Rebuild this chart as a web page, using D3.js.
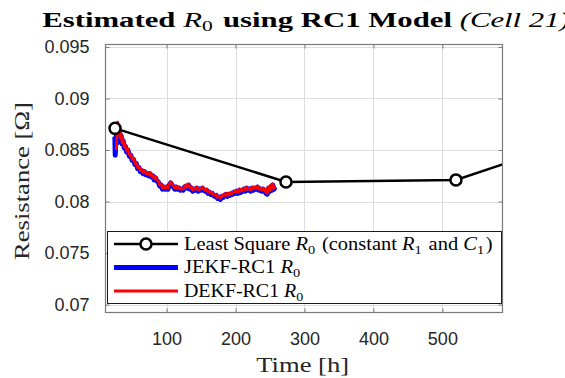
<!DOCTYPE html>
<html>
<head>
<meta charset="utf-8">
<script src="https://cdn.jsdelivr.net/npm/d3@7/dist/d3.min.js"></script>
<style>
  body { margin: 0; background: #fff; }
  svg { display: block; }
</style>
</head>
<body>
<svg id="chart" width="565" height="378"></svg>
<script>
// Axis ticks
const xTicks = [100, 200, 300, 400, 500];
const xTickLabels = ["100", "200", "300", "400", "500"];
const yTicks = [0.07, 0.075, 0.08, 0.085, 0.09, 0.095];
const yTickLabels = ["0.07", "0.075", "0.08", "0.085", "0.09", "0.095"];

// Least-square R0 estimates (constant R1 and C1)
const lsTime = [25.2, 273.2, 519.7, 767];
const lsR0 = [0.0871, 0.0819, 0.0821, 0.0876];

// Joint EKF estimate of R0
const jekfTime = [25, 25.5, 26.5, 27.5, 28.5, 29.5, 31, 32.5, 34, 35.5, 37, 38.5, 40, 42, 44, 46, 48, 50, 52, 54, 56, 58, 60, 62, 64, 66, 68, 70, 72, 74, 76, 78, 80, 82, 84, 86, 88, 90, 92, 94, 96, 98, 100, 102, 104, 106, 108, 110, 112, 114, 116, 118, 120, 122, 124, 126, 128, 130, 132, 134, 136, 138, 140, 142, 144, 146, 148, 150, 152, 154, 156, 158, 160, 162, 164, 166, 168, 170, 172, 174, 176, 178, 180, 182, 184, 186, 188, 190, 192, 194, 196, 198, 200, 202, 204, 206, 208, 210, 212, 214, 216, 218, 220, 222, 224, 226, 228, 230, 232, 234, 236, 238, 240, 242, 244, 245, 246, 248, 250, 252, 253, 254, 256, 257];
const jekfR0 = [0.0863, 0.0845, 0.0860, 0.0866, 0.0857, 0.0868, 0.0870, 0.0861, 0.0864, 0.0856, 0.0859, 0.0852, 0.0854, 0.0848, 0.0850, 0.0844, 0.0845, 0.0840, 0.0841, 0.0836, 0.0837, 0.0832, 0.0833, 0.0829, 0.0830, 0.0827, 0.0829, 0.0826, 0.0827, 0.0825, 0.0827, 0.0824, 0.0825, 0.0821, 0.0823, 0.0820, 0.0819, 0.0815, 0.0816, 0.0812, 0.0814, 0.0812, 0.0814, 0.0812, 0.0816, 0.0818, 0.0816, 0.0814, 0.0812, 0.0814, 0.0812, 0.0813, 0.0811, 0.0812, 0.0811, 0.0814, 0.0815, 0.0813, 0.0816, 0.0812, 0.0813, 0.0810, 0.0812, 0.0811, 0.0813, 0.0810, 0.0812, 0.0811, 0.0813, 0.0811, 0.0810, 0.0811, 0.0808, 0.0809, 0.0807, 0.0808, 0.0806, 0.0805, 0.0806, 0.0803, 0.0804, 0.0802, 0.0805, 0.0804, 0.0806, 0.0807, 0.0805, 0.0807, 0.0806, 0.0808, 0.0807, 0.0809, 0.0808, 0.0810, 0.0808, 0.0811, 0.0809, 0.0810, 0.0812, 0.0810, 0.0813, 0.0811, 0.0812, 0.0810, 0.0813, 0.0811, 0.0813, 0.0812, 0.0814, 0.0811, 0.0812, 0.0810, 0.0812, 0.0811, 0.0808, 0.0811, 0.0807, 0.0813, 0.0810, 0.0815, 0.0811, 0.0816, 0.0812, 0.0814];

// Dual EKF estimate of R0
const dekfTime = [27, 28, 29, 30, 31, 32.5, 34, 35.5, 37, 38.5, 40, 42, 44, 46, 48, 50, 52, 54, 56, 58, 60, 62, 64, 66, 68, 70, 72, 74, 76, 78, 80, 82, 84, 86, 88, 90, 92, 94, 96, 98, 100, 102, 104, 106, 108, 110, 112, 114, 116, 118, 120, 122, 124, 126, 128, 130, 132, 134, 136, 138, 140, 142, 144, 146, 148, 150, 152, 154, 156, 158, 160, 162, 164, 166, 168, 170, 172, 174, 176, 178, 180, 182, 184, 186, 188, 190, 192, 194, 196, 198, 200, 202, 204, 206, 208, 210, 212, 214, 216, 218, 220, 222, 224, 226, 228, 230, 232, 234, 236, 238, 240, 242, 244, 245, 246, 248, 250, 252, 253, 254, 256, 257];
const dekfR0 = [0.0850, 0.0866, 0.0877, 0.0866, 0.0873, 0.0862, 0.0866, 0.0857, 0.0860, 0.0853, 0.0855, 0.0849, 0.0851, 0.0845, 0.0846, 0.0841, 0.0842, 0.0837, 0.0838, 0.0833, 0.0834, 0.0830, 0.0831, 0.0828, 0.0830, 0.0827, 0.0828, 0.0826, 0.0828, 0.0825, 0.0826, 0.0822, 0.0824, 0.0821, 0.0820, 0.0816, 0.0817, 0.0813, 0.0815, 0.0813, 0.0815, 0.0813, 0.0817, 0.0819, 0.0817, 0.0815, 0.0813, 0.0815, 0.0813, 0.0814, 0.0812, 0.0813, 0.0812, 0.0815, 0.0816, 0.0814, 0.0817, 0.0813, 0.0814, 0.0811, 0.0813, 0.0812, 0.0814, 0.0811, 0.0813, 0.0812, 0.0814, 0.0812, 0.0811, 0.0812, 0.0809, 0.0810, 0.0808, 0.0809, 0.0807, 0.0806, 0.0807, 0.0804, 0.0805, 0.0803, 0.0806, 0.0805, 0.0807, 0.0808, 0.0806, 0.0808, 0.0807, 0.0809, 0.0808, 0.0810, 0.0809, 0.0811, 0.0809, 0.0812, 0.0810, 0.0811, 0.0813, 0.0811, 0.0814, 0.0812, 0.0813, 0.0811, 0.0814, 0.0812, 0.0814, 0.0813, 0.0815, 0.0812, 0.0813, 0.0811, 0.0813, 0.0812, 0.0809, 0.0812, 0.0808, 0.0814, 0.0811, 0.0816, 0.0812, 0.0817, 0.0813, 0.0815];

const svg = d3.select("#chart");
const W = 565, H = 378;
const plot = { left: 105.5, right: 502.5, top: 44.5, bottom: 312.5 };

const x = d3.scaleLinear().domain([11.4, 587.2]).range([plot.left, plot.right]);
const y = d3.scaleLinear().domain([0.06923, 0.09524]).range([plot.bottom, plot.top]);

const axisColor = "#262626";
const frameColor = "#7a7a7a";
const serif = "'Liberation Serif', 'Times New Roman', serif";
const sans = "'Liberation Sans', Arial, Helvetica, sans-serif";

svg.append("rect").attr("width", W).attr("height", H).attr("fill", "#fff");

// Grid
const grid = svg.append("g");
grid.selectAll("line.gx").data(xTicks).join("line")
  .attr("x1", d => Math.round(x(d)) + 0.5).attr("x2", d => Math.round(x(d)) + 0.5)
  .attr("y1", plot.top).attr("y2", plot.bottom)
  .attr("stroke", "#dedede").attr("stroke-width", 1);
grid.selectAll("line.gy").data(yTicks).join("line")
  .attr("y1", d => Math.round(y(d)) + 0.5).attr("y2", d => Math.round(y(d)) + 0.5)
  .attr("x1", plot.left).attr("x2", plot.right)
  .attr("stroke", "#dedede").attr("stroke-width", 1);

// Axes with inward ticks on all four sides
const tickLen = 4;
const xAxisB = svg.append("g").attr("transform", `translate(0,${plot.bottom})`)
  .call(d3.axisBottom(x).tickValues(xTicks).tickFormat((d, i) => xTickLabels[i])
    .tickSizeInner(-tickLen).tickSizeOuter(0).tickPadding(20));
const xAxisT = svg.append("g").attr("transform", `translate(0,${plot.top})`)
  .call(d3.axisTop(x).tickValues(xTicks).tickFormat("").tickSizeInner(-tickLen).tickSizeOuter(0));
const yAxisL = svg.append("g").attr("transform", `translate(${plot.left},0)`)
  .call(d3.axisLeft(y).tickValues(yTicks).tickFormat((d, i) => yTickLabels[i])
    .tickSizeInner(-tickLen).tickSizeOuter(0).tickPadding(16));
const yAxisR = svg.append("g").attr("transform", `translate(${plot.right},0)`)
  .call(d3.axisRight(y).tickValues(yTicks).tickFormat("").tickSizeInner(-tickLen).tickSizeOuter(0));

[xAxisB, xAxisT, yAxisL, yAxisR].forEach(g => {
  g.select(".domain").remove();
  g.selectAll(".tick line").attr("stroke", frameColor).attr("stroke-width", 1);
  g.selectAll("text").attr("fill", axisColor).attr("font-family", sans).attr("font-size", 18);
});

// Data clip
svg.append("clipPath").attr("id", "plotClip").append("rect")
  .attr("x", plot.left).attr("y", plot.top)
  .attr("width", plot.right - plot.left).attr("height", plot.bottom - plot.top);

const dataG = svg.append("g").attr("clip-path", "url(#plotClip)");
const line = d3.line().x(d => x(d[0])).y(d => y(d[1]));

const jekf = jekfTime.map((t, i) => [t, jekfR0[i]]);
const dekf = dekfTime.map((t, i) => [t, dekfR0[i]]);
const ls = lsTime.map((t, i) => [t, lsR0[i]]);

dataG.append("path").datum(ls).attr("d", line)
  .attr("fill", "none").attr("stroke", "#000").attr("stroke-width", 2.5);
dataG.append("path").datum(jekf).attr("d", line)
  .attr("fill", "none").attr("stroke", "#0000ff").attr("stroke-width", 5)
  .attr("stroke-linejoin", "round");
dataG.append("path").datum(dekf).attr("d", line)
  .attr("fill", "none").attr("stroke", "#ff0000").attr("stroke-width", 2.8)
  .attr("stroke-linejoin", "round");
dataG.selectAll("circle.ls").data(ls).join("circle")
  .attr("cx", d => x(d[0])).attr("cy", d => y(d[1])).attr("r", 5.5)
  .attr("fill", "#fff").attr("stroke", "#000").attr("stroke-width", 2.5);

// Frame
svg.append("rect")
  .attr("x", plot.left).attr("y", plot.top)
  .attr("width", plot.right - plot.left).attr("height", plot.bottom - plot.top)
  .attr("fill", "none").attr("stroke", frameColor).attr("stroke-width", 1.2);

// Text with italic variables and subscripts
function mathText(sel, parts, size) {
  parts.forEach(p => {
    if (typeof p === "string") {
      sel.append("tspan").text(p);
    } else {
      sel.append("tspan").attr("font-style", "italic").attr("font-weight", "normal").text(p.v);
      sel.append("tspan").attr("font-size", size * 0.7).attr("dy", size * 0.2)
        .attr("font-style", "normal").attr("font-weight", "normal").text(p.s);
      sel.append("tspan").attr("dy", -size * 0.2).text("\u200A");
    }
  });
}

// Widen a text element horizontally about an anchor point so it spans a given width
function fitWidth(sel, target, ax, base) {
  const w = sel.node().getComputedTextLength();
  const s = target / w;
  sel.attr("transform", `${base || ""} translate(${ax},0) scale(${s},1) translate(${-ax},0)`);
}

// Title
const title = svg.append("text")
  .attr("x", 306).attr("y", 27).attr("text-anchor", "middle")
  .attr("font-family", serif).attr("font-size", 20).attr("font-weight", "bold")
  .attr("fill", "#000");
mathText(title, ["Estimated ", { v: "R", s: "0" }, " using RC1 Model "], 20);
title.append("tspan").attr("font-style", "italic").attr("font-weight", "normal").text("(Cell 21)");
fitWidth(title, 528, 306);

// Axis labels
const xLabel = svg.append("text")
  .attr("x", 302.7).attr("y", 372).attr("text-anchor", "middle")
  .attr("font-family", serif).attr("font-size", 20).attr("fill", axisColor)
  .text("Time [h]");
fitWidth(xLabel, 93, 302.7);
const yLabel = svg.append("text")
  .attr("x", 0).attr("y", 0).attr("text-anchor", "middle")
  .attr("font-family", serif).attr("font-size", 20).attr("fill", axisColor)
  .text("Resistance [\u03A9]");
fitWidth(yLabel, 158, 0, "translate(29,181) rotate(-90)");

// Legend
const legend = svg.append("g");
legend.append("rect")
  .attr("x", 107.5).attr("y", 231.5).attr("width", 394).attr("height", 72)
  .attr("fill", "#fff").attr("stroke", "#1a1a1a").attr("stroke-width", 1);

const legendRows = [
  { color: "#000", width: 2.5, marker: true, y: 244, len: 309,
    parts: ["Least Square ", { v: "R", s: "0" }, " (constant ", { v: "R", s: "1" }, " and ", { v: "C", s: "1" }, ")"] },
  { color: "#0000ff", width: 5, marker: false, y: 267.5, len: 118,
    parts: ["JEKF-RC1 ", { v: "R", s: "0" }] },
  { color: "#ff0000", width: 2.8, marker: false, y: 291, len: 121,
    parts: ["DEKF-RC1 ", { v: "R", s: "0" }] }
];
legendRows.forEach(r => {
  legend.append("line").attr("x1", 114).attr("x2", 178).attr("y1", r.y).attr("y2", r.y)
    .attr("stroke", r.color).attr("stroke-width", r.width);
  if (r.marker) {
    legend.append("circle").attr("cx", 146).attr("cy", r.y).attr("r", 5.5)
      .attr("fill", "#fff").attr("stroke", "#000").attr("stroke-width", 2.5);
  }
  const t = legend.append("text").attr("x", 184).attr("y", r.y + 6)
    .attr("font-family", serif).attr("font-size", 18).attr("fill", "#000");
  mathText(t, r.parts, 18);
  fitWidth(t, r.len, 184);
});
</script>
</body>
</html>
